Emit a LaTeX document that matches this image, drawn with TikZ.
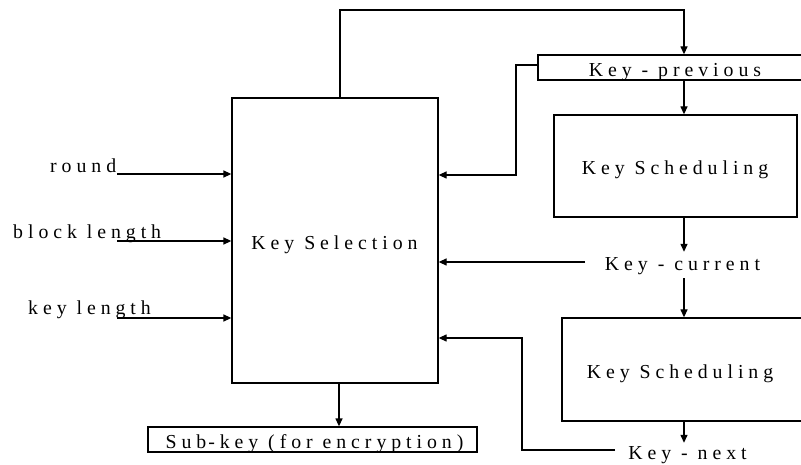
\documentclass[tikz,border=0pt]{standalone}
\usepackage{fontspec}
\newfontfamily\diagfont{Liberation Serif}[LetterSpace=25]
\usetikzlibrary{arrows.meta}
\begin{document}
\begin{tikzpicture}[x=1pt,y=1pt,
  box/.style={draw, line width=1.3pt, inner sep=0pt, rectangle},
  txt/.style={font=\diagfont\fontsize{19.8}{20}\selectfont, inner sep=0pt,
              text height=13pt, text depth=4pt},
  arr/.style={line width=1.3pt, -{Triangle[length=8pt,width=7pt]}}]
\clip (0,0) rectangle (801,464);
\fill[white] (0,0) rectangle (801,464);

% main selection block and its output
\node[box, minimum width=206pt, minimum height=285pt] (ks) at (335,223.5) {};
\node[txt, anchor=base] (kstxt) at (334.5,214) {Key Selection};
\node[box, minimum width=329pt, minimum height=25pt] (sub) at (312.5,24.5) {};
\node[txt, anchor=base] (subtxt) at (314.5,16) {Sub\kern2pt-key (for encryption)};

% key chain on the right
\node[box, minimum width=267pt, minimum height=25pt] (kp) at (671.5,396.5) {};
\node[txt, anchor=base] (kptxt) at (675,387) {Key - previous};
\node[box, minimum width=243pt, minimum height=102pt] (s1) at (675.5,298) {};
\node[txt, anchor=base] (s1txt) at (675,289) {Key Scheduling};
\node[txt, anchor=base] (kc) at (682.5,193) {Key - current};
\node[box, minimum width=243pt, minimum height=103pt] (s2) at (683.5,94.5) {};
\node[txt, anchor=base] (s2txt) at (680,85) {Key Scheduling};
\node[txt, anchor=base] (kn) at (687.5,5) {Key - next};

% inputs
\node[txt, anchor=base west] (rnd) at (50,291) {round};
\node[txt, anchor=base west] (blk) at (13,225) {block length};
\node[txt, anchor=base west] (kyl) at (28,149) {key length};
\coordinate (in1) at (117,290);
\coordinate (in2) at (117,223);
\coordinate (in3) at (117,146);
\draw[arr] (in1) -- (in1 -| ks.west);
\draw[arr] (in2) -- (in2 -| ks.west);
\draw[arr] (in3) -- (in3 -| ks.west);

% feedback loop over the top and the vertical chain
\coordinate (col) at (684,454);
\draw[arr] ([xshift=5pt]ks.north) |- (col) -- (col |- kp.north);
\draw[arr] (kp.south -| col) -- (col |- s1.north);
\draw[arr] (s1.south -| col) -- ([yshift=6pt]kc.north -| col);
\draw[arr] ([yshift=-3pt]kc.south -| col) -- (col |- s2.north);
\draw[arr] (s2.south -| col) -- ([yshift=3pt]kn.north -| col);

% keys returned to the selection block
\coordinate (kpb) at (516,289);
\draw[arr] ([yshift=2.5pt]kp.west) -| (kpb) -- (kpb -| ks.east);
\coordinate (kcl) at (585,202);
\draw[arr] (kcl) -- (kcl -| ks.east);
\coordinate (knr) at (615,14);
\coordinate (knb) at (522,126);
\draw[arr] (knr) -| (knb) -- (knb -| ks.east);

% output
\draw[arr] ([xshift=4pt]ks.south) -- ([xshift=4pt]ks.south |- sub.north);
\end{tikzpicture}
\end{document}
